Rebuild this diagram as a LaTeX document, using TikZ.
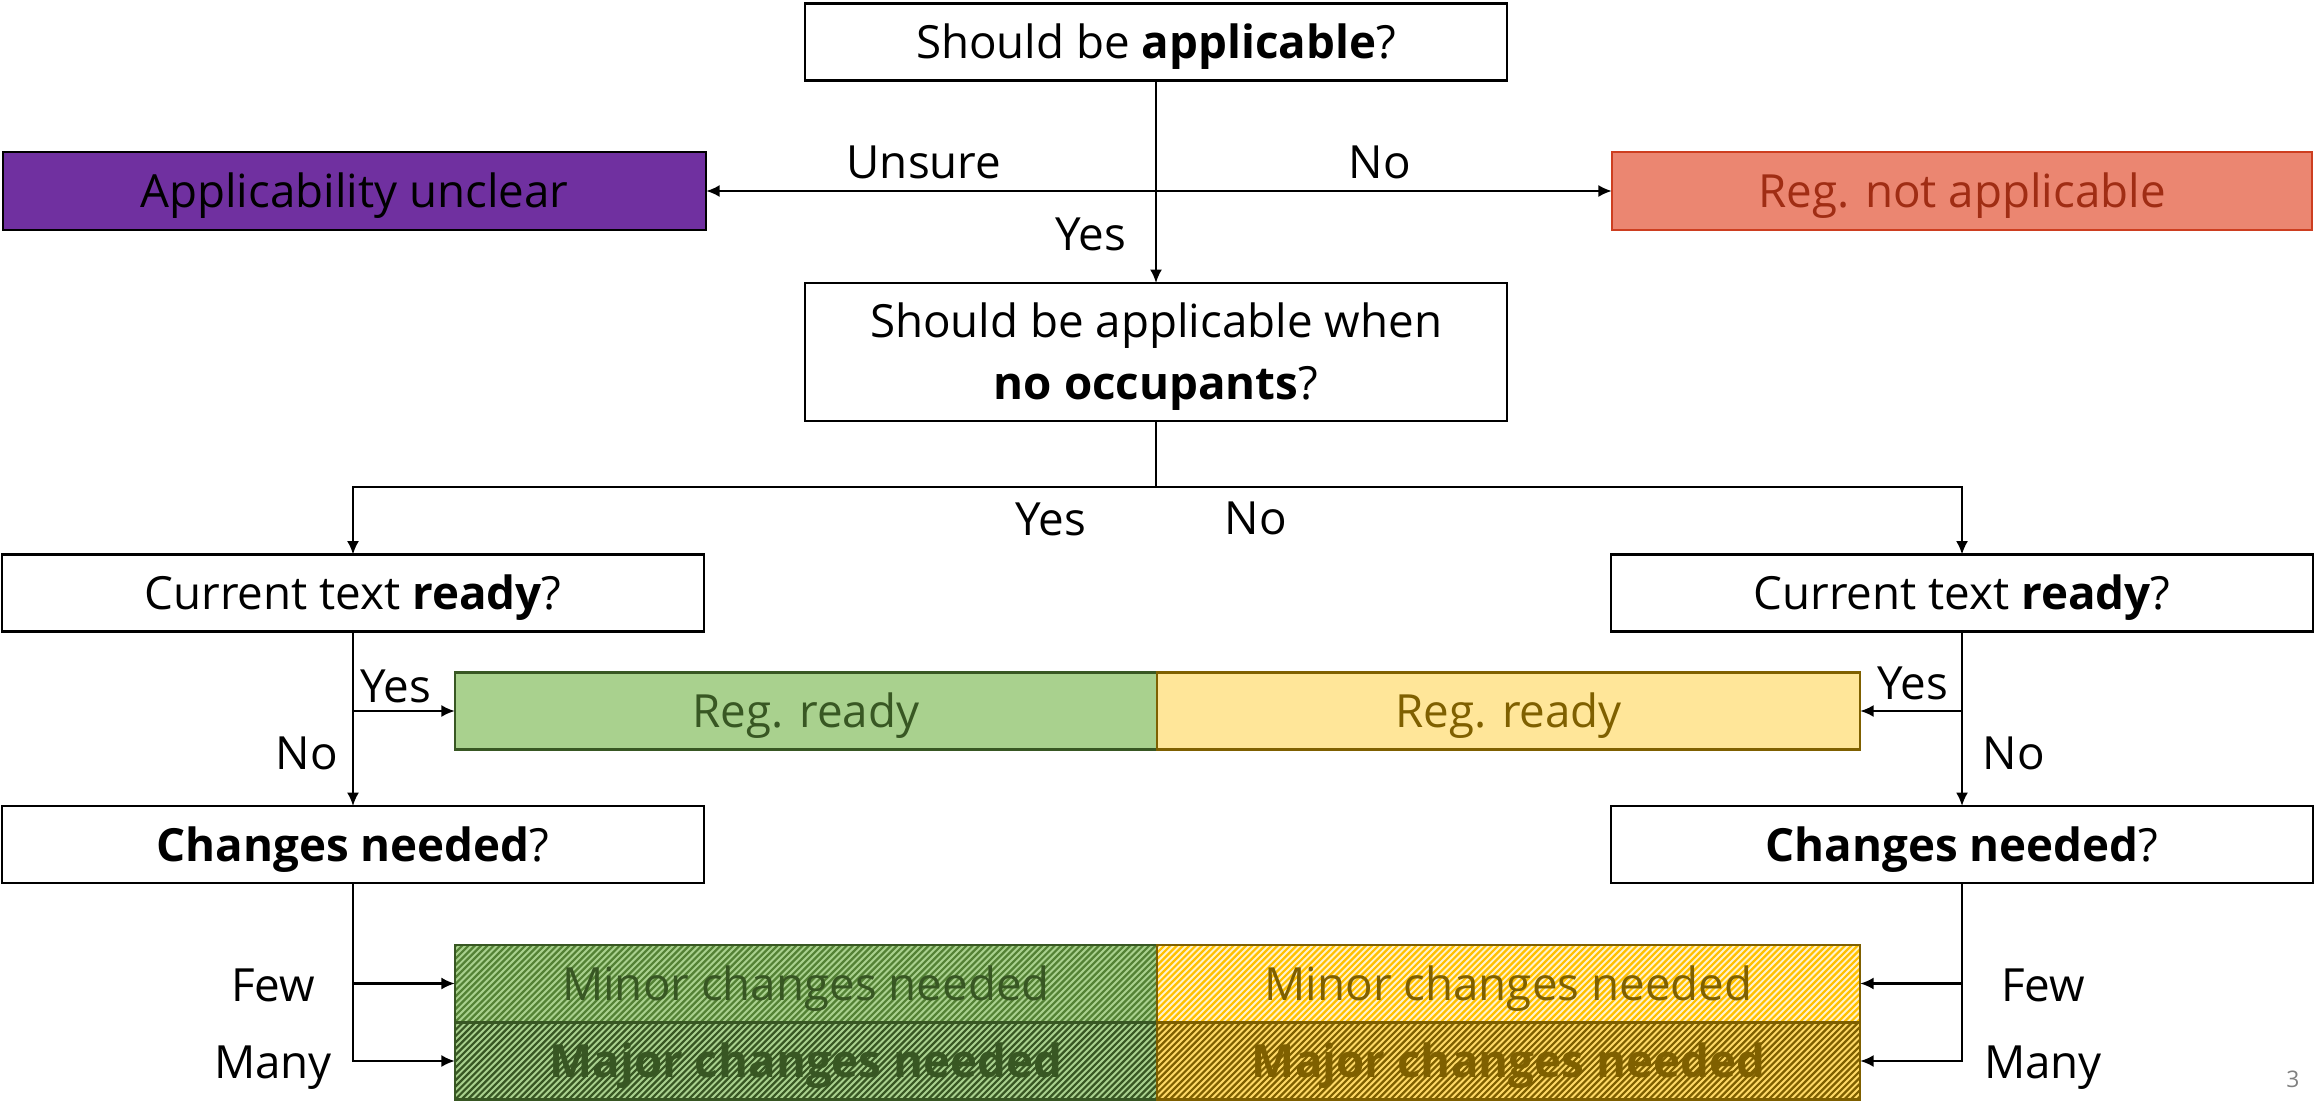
\documentclass[tikz,border=0pt]{standalone}
\usepackage{fontspec}
\setmainfont{Open Sans}
\usetikzlibrary{arrows.meta}
\definecolor{purp}{HTML}{7030A0}
\definecolor{redfill}{RGB}{235,134,113}
\definecolor{redline}{RGB}{205,62,32}
\definecolor{redtext}{RGB}{160,45,20}
\definecolor{grfill}{HTML}{A9D18E}
\definecolor{grmid}{HTML}{548235}
\definecolor{grline}{HTML}{385723}
\definecolor{yefill}{HTML}{FFE699}
\definecolor{yeline}{HTML}{7F6000}
\definecolor{yebright}{HTML}{FFC000}
\definecolor{yelight}{HTML}{FFF2CC}
\definecolor{yemid}{HTML}{FFD966}
\newcommand\px[1]{#1*0.28453pt}
\tikzset{
  box/.style={draw, line width=0.7pt, inner sep=0pt, outer sep=0pt,
    minimum width=\px{702}, minimum height=\px{77},
    font=\fontsize{13}{17.6}\selectfont, text height=12.8pt, text depth=3.2pt},
  tallbox/.style={draw, line width=0.7pt, inner sep=0pt, outer sep=0pt,
    minimum width=\px{702}, minimum height=\px{138},
    font=\fontsize{13}{17.6}\selectfont, align=center},
  lab/.style={font=\fontsize{13}{15}\selectfont, inner sep=0pt},
  arr/.style={line width=0.6pt, -{Latex[length=3.8pt,width=3.4pt]}},
  conn/.style={line width=0.6pt},
  hatch/.style 2 args={path picture={
    \fill[#1] (path picture bounding box.south west) rectangle (path picture bounding box.north east);
    \foreach \k in {0,...,132}{
      \draw[#2, line width=0.63pt] ([xshift=-25pt+\k*1.7925pt]path picture bounding box.south west) -- ++(25pt,25pt);
    }
  }},
}
\begin{document}
\begin{tikzpicture}[x=0.01cm, y=-0.01cm]
\useasboundingbox (0,0) rectangle (2315,1103);
% boxes
\node[box] (q1) at (1156,42) {Should be \textbf{applicable}?};
\node[box, fill=purp, minimum width=\px{703}, minimum height=\px{78}] (unclear) at (354.5,191) {Applicability unclear};
\node[box, fill=redfill, draw=redline, text=redtext, minimum width=\px{700}, minimum height=\px{78}] (notapp) at (1962,191) {Reg. not applicable};
\node[tallbox] (q2) at (1156,352) {\rule{0pt}{12.8pt}Should be applicable when\\\textbf{no occupants}?\rule[-3.2pt]{0pt}{0pt}};
\node[box] (readyL) at (353,593) {Current text \textbf{ready}?};
\node[box] (readyR) at (1962,593) {Current text \textbf{ready}?};
\node[box, fill=grfill, draw=grline, text=grline] (regG) at (806,711) {Reg. ready};
\node[box, fill=yefill, draw=yeline, text=yeline, minimum width=\px{703}] (regY) at (1508.5,711) {Reg. ready};
\node[box] (chL) at (353,844.5) {\textbf{Changes needed}?};
\node[box] (chR) at (1962,844.5) {\textbf{Changes needed}?};
\node[box, hatch={grfill}{grmid}, draw=grline, text=grline] (minG) at (806,983.5) {Minor changes needed};
\node[box, hatch={grfill}{grline}, draw=grline, text=grline] (majG) at (806,1061) {\textbf{Major changes needed}};
\node[box, hatch={yelight}{yebright}, draw=yeline, text=yeline, minimum width=\px{703}] (minY) at (1508.5,983.5) {Minor changes needed};
\node[box, hatch={yemid}{yeline}, draw=yeline, text=yeline, minimum width=\px{703}] (majY) at (1508.5,1061) {\textbf{Major changes needed}};
% connectors
\coordinate (b1) at (1156,191);
\draw[arr] (q1) -- (q2);
\draw[arr] (b1) -- (unclear);
\draw[arr] (b1) -- (notapp);
\coordinate (b2) at (1156,487);
\draw[conn] (q2) -- (b2);
\draw[arr] (b2) -| (readyL);
\draw[arr] (b2) -| (readyR);
\draw[arr] (readyL) -- (chL);
\draw[arr] (readyL.south |- regG) -- (regG);
\draw[arr] (readyR) -- (chR);
\draw[arr] (readyR.south |- regY) -- (regY);
\draw[arr] (chL) |- (majG);
\draw[arr] (chL.south |- minG) -- (minG);
\draw[arr] (chR) |- (majY);
\draw[arr] (chR.south |- minY) -- (minY);
% labels
\node[lab] (lUnsure) at (924,162) {Unsure};
\node[lab] (lNo1) at (1380,162) {No};
\node[lab] (lYes1) at (1091,234) {Yes};
\node[lab] (lYes2) at (1051,519) {Yes};
\node[lab] (lNo2) at (1256,518) {No};
\node[lab] (lYesL) at (396,686) {Yes};
\node[lab] (lNoL) at (307,753) {No};
\node[lab] (lYesR) at (1913,683) {Yes};
\node[lab] (lNoR) at (2014,753) {No};
\node[lab] (lFewL) at (273,985) {Few};
\node[lab] (lManyL) at (273,1068) {Many};
\node[lab] (lFewR) at (2043,985) {Few};
\node[lab] (lManyR) at (2043,1068) {Many};
\node[font=\fontsize{6.5}{7}\selectfont, text=gray, inner sep=0pt] (pg) at (2293,1079) {3};
\end{tikzpicture}
\end{document}
